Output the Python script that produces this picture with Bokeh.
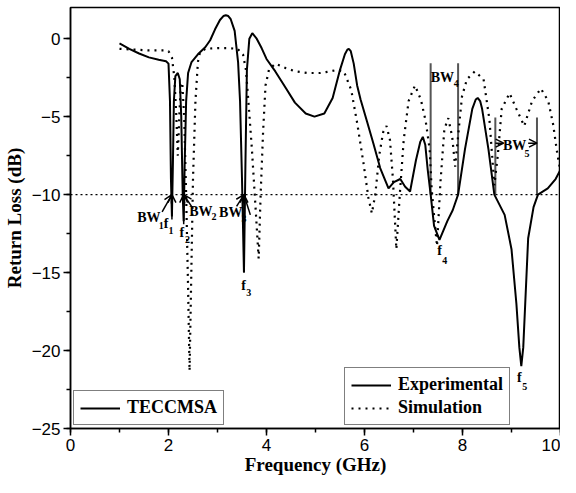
from bokeh.plotting import figure
from bokeh.models import (Legend, LegendItem, Arrow, OpenHead, Span,
                          SingleIntervalTicker, Range1d, ColumnDataSource)
from bokeh.core.properties import value
from bokeh.embed import file_html
from bokeh.resources import INLINE

# ---------------- data ----------------
exp_freq = [1.0, 1.2, 1.4, 1.6, 1.8, 1.95, 2.0, 2.03, 2.05, 2.07, 2.09, 2.11, 2.14,
            2.19, 2.23, 2.26, 2.29, 2.31, 2.33, 2.36, 2.40, 2.47, 2.6, 2.75, 2.85,
            2.95, 3.05, 3.12, 3.17, 3.22, 3.27, 3.35, 3.42, 3.46, 3.50, 3.54, 3.57,
            3.60, 3.65, 3.71, 3.8, 3.9, 4.0, 4.18, 4.4, 4.58, 4.8, 4.98, 5.18, 5.35,
            5.5, 5.6, 5.65, 5.68, 5.72, 5.78, 5.85, 5.92, 6.05, 6.18, 6.32, 6.49,
            6.6, 6.73, 6.83, 6.93, 7.05, 7.14, 7.19, 7.24, 7.29, 7.35, 7.42, 7.53,
            7.69, 7.8, 7.91, 8.05, 8.2, 8.27, 8.31, 8.36, 8.4, 8.53, 8.65, 8.86,
            9.0, 9.1, 9.16, 9.2, 9.24, 9.28, 9.34, 9.45, 9.54, 9.74, 9.9, 10.0]
exp_rl = [-0.3, -0.65, -0.95, -1.2, -1.35, -1.45, -1.6, -4.0, -9.0, -11.4, -8.0, -4.0, -2.4,
          -2.2, -2.6, -5.0, -10.0, -11.7, -8.0, -4.0, -2.2, -1.5, -1.0, -0.55, -0.1,
          0.6, 1.2, 1.45, 1.5, 1.45, 1.25, 0.5, -1.5, -4.0, -9.0, -15.0, -8.0,
          -2.0, 0.0, 0.35, 0.0, -0.6, -1.3, -2.1, -3.2, -4.1, -4.8, -5.0, -4.8, -3.8,
          -2.0, -1.0, -0.7, -0.65, -0.8, -1.6, -3.0, -3.9, -5.3, -6.7, -8.3, -9.6,
          -9.2, -9.0, -9.5, -9.8, -7.8, -6.6, -6.3, -6.8, -8.4, -10.0, -12.0, -12.9,
          -11.7, -11.0, -10.0, -7.1, -4.5, -3.9, -3.8, -4.0, -4.5, -7.1, -10.0, -11.3,
          -13.5, -17.0, -19.8, -21.0, -19.8, -17.0, -12.8, -10.8, -10.0, -9.6, -9.0, -8.4]

sim_freq = [1.0, 1.3, 1.6, 1.9, 2.0, 2.07, 2.12, 2.16, 2.19, 2.22, 2.25, 2.28, 2.32,
            2.36, 2.40, 2.43, 2.46, 2.50, 2.55, 2.6, 2.64, 2.75, 3.0, 3.2, 3.41,
            3.52, 3.58, 3.63, 3.7, 3.77, 3.84, 3.88, 3.93, 3.98, 4.05, 4.18, 4.4,
            4.6, 4.84, 5.1, 5.3, 5.44, 5.58, 5.73, 5.85, 5.98, 6.08, 6.15, 6.22,
            6.3, 6.38, 6.45, 6.52, 6.58, 6.65, 6.72, 6.8, 6.9, 7.03, 7.15, 7.25,
            7.33, 7.37, 7.43, 7.48, 7.55, 7.63, 7.71, 7.79, 7.85, 7.93, 7.99, 8.09,
            8.25, 8.43, 8.55, 8.65, 8.72, 8.8, 8.96, 9.1, 9.26, 9.42, 9.6, 9.75,
            9.85, 9.94, 10.0]
sim_rl = [-0.65, -0.7, -0.75, -0.75, -0.8, -1.2, -2.5, -5.0, -7.5, -5.0, -3.0, -2.8, -5.0,
          -10.0, -16.0, -21.3, -16.0, -9.0, -4.0, -1.5, -0.9, -0.65, -0.6, -0.6, -0.65,
          -1.0, -2.0, -4.0, -7.0, -10.5, -14.1, -10.0, -6.0, -3.0, -2.0, -1.6, -1.9,
          -2.1, -2.2, -2.2, -2.1, -2.0, -2.1, -3.3, -5.4, -8.0, -10.2, -11.2, -10.0,
          -7.5, -6.0, -5.6, -6.5, -9.0, -13.5, -10.0, -6.5, -4.0, -3.0, -3.9, -5.3,
          -7.1, -9.6, -11.7, -13.3, -9.2, -5.8, -5.1, -6.3, -8.2, -5.6, -3.7, -2.6,
          -2.1, -2.6, -5.2, -9.4, -7.5, -4.5, -3.5, -4.5, -5.6, -4.0, -3.2, -4.0,
          -5.5, -7.5, -8.5]

threshold = -10
f_res = [2.07, 2.31, 3.54, 7.53, 9.20]      # resonant frequencies f1..f5
f_min = [-11.6, -11.9, -15.0, -12.9, -21.0]
bw4_edges = [7.35, 7.91]
bw5_edges = [8.67, 9.52]
bw4_top = -1.57
bw5_top = -5.06

x_ticks_interval = 2
y_ticks_interval = 5

SERIF = "Liberation Serif"
SANS = "Liberation Sans"

# ---------------- figure ----------------
p = figure(width=560, height=477, output_backend="svg", toolbar_location=None,
           x_range=Range1d(0, 10), y_range=Range1d(-25, 2),
           min_border_left=70, min_border_right=0, min_border_top=7,
           min_border_bottom=46)
p.grid.visible = False
p.background_fill_color = "white"
p.border_fill_color = "white"
p.outline_line_color = "black"
p.outline_line_width = 1.5

for ax in (p.xaxis[0], p.yaxis[0]):
    ax.axis_line_width = 1.5
    ax.major_tick_line_width = 1.5
    ax.minor_tick_line_width = 1.5
    ax.major_tick_out = 7
    ax.major_tick_in = 0
    ax.minor_tick_out = 4
    ax.minor_tick_in = 0
    ax.major_label_text_font = SANS
    ax.major_label_text_font_size = "17px"
    ax.major_label_text_color = "black"
    ax.axis_label_text_font = SERIF
    ax.axis_label_text_font_style = "bold"
    ax.axis_label_text_font_size = "19px"
    ax.axis_label_text_color = "black"

p.xaxis.ticker = SingleIntervalTicker(interval=x_ticks_interval, num_minor_ticks=2)
p.yaxis.ticker = SingleIntervalTicker(interval=y_ticks_interval, num_minor_ticks=2)
p.xaxis.axis_label = "Frequency (GHz)"
p.yaxis.axis_label = "Return Loss (dB)"
p.xaxis.major_label_standoff = 3
p.yaxis.major_label_standoff = 3
p.xaxis.axis_label_standoff = 0
p.yaxis.axis_label_standoff = 4

# threshold line
p.add_layout(Span(location=threshold, dimension="width", line_color="black",
                  line_width=1.3, line_dash="2 3"))

# BW marker lines
p.segment(x0=bw4_edges, y0=[bw4_top] * 2, x1=bw4_edges, y1=[threshold] * 2,
          line_color="#555555", line_width=2)
p.segment(x0=bw5_edges, y0=[bw5_top] * 2, x1=bw5_edges, y1=[threshold] * 2,
          line_color="#555555", line_width=2)

sim = p.line(sim_freq, sim_rl, line_color="black", line_width=2.2, line_dash="2 5")
exp = p.line(exp_freq, exp_rl, line_color="black", line_width=2)

# ---------------- arrows ----------------
def arrow(xs, ys, xe, ye, head=True):
    kw = dict(x_start=xs, y_start=ys, x_end=xe, y_end=ye,
              line_color="black", line_width=1.5)
    kw["end"] = OpenHead(size=8, line_width=1.5) if head else None
    p.add_layout(Arrow(**kw))

f1, f2, f3, f4, f5 = f_res
arrow(f1, f_min[0], f1, threshold)
arrow(f1 - 0.20, threshold - 1.1, f1, threshold)
arrow(f2, f_min[1], f2, threshold)
arrow(f2 + 0.16, threshold - 0.75, f2, threshold)
arrow(f3, f_min[2], f3, threshold)
arrow(f3 - 0.15, threshold - 0.75, f3, threshold)
arrow(f3 + 0.13, threshold - 1.3, f3, threshold, head=False)
bw5_y = -6.7
arrow(bw5_edges[0], bw5_y, bw5_edges[0] + 0.17, bw5_y)
arrow(bw5_edges[1] - 0.18, bw5_y, bw5_edges[1], bw5_y)

# ---------------- labels ----------------
main_lbl = ColumnDataSource(dict(
    x=[f1 - 0.47, f1 - 0.12, f2 - 0.04, f2 + 0.35, f3 - 0.27, f3 - 0.01,
       f4, f5 - 0.04, sum(bw4_edges) / 2 - 0.04, sum(bw5_edges) / 2 - 0.03],
    y=[-11.47, -11.85, -12.4, -11.08, -11.15, -15.8, -13.6, -21.7, -2.46, -6.84],
    t=["BW", "f", "f", "BW", "BW", "f", "f", "f", "BW", "BW"]))
sub_lbl = ColumnDataSource(dict(
    x=[f1 - 0.22, f1 - 0.02, f2 + 0.08, f2 + 0.62, f3 + 0.0, f3 + 0.10,
       f4 + 0.11, f5 + 0.07, bw4_edges[1] - 0.04, sum(bw5_edges) / 2 + 0.22],
    y=[-11.95, -12.3, -12.85, -11.4, -11.5, -16.25, -14.2, -22.3, -2.9, -7.35],
    t=["1", "1", "2", "2", "3", "3", "4", "5", "4", "5"]))
p.text(x="x", y="y", text="t", source=main_lbl, text_font=value(SERIF),
       text_font_style="bold", text_font_size="14px", text_align="center",
       text_baseline="middle", text_color="black")
p.text(x="x", y="y", text="t", source=sub_lbl, text_font=value(SERIF),
       text_font_style="bold", text_font_size="10px", text_align="center",
       text_baseline="middle", text_color="black")

# ---------------- legends ----------------
def style_legend(lg):
    lg.border_line_color = "black"
    lg.border_line_width = 1.5
    lg.background_fill_color = "white"
    lg.background_fill_alpha = 1
    lg.label_text_font = SERIF
    lg.label_text_font_style = "bold"
    lg.label_text_font_size = "18px"
    lg.label_text_color = "black"
    lg.glyph_width = 40
    lg.label_standoff = 7
    lg.padding = 6
    lg.spacing = 2
    lg.margin = 0
    lg.label_height = 20
    lg.glyph_height = 20

leg1 = Legend(items=[LegendItem(label="TECCMSA", renderers=[exp])], location=(3, 3))
leg2 = Legend(items=[LegendItem(label="Experimental", renderers=[exp]),
                     LegendItem(label="Simulation", renderers=[sim])], location=(274, 3))
style_legend(leg1)
style_legend(leg2)
p.add_layout(leg1, "center")
p.add_layout(leg2, "center")

open("out.html", "w").write(file_html(p, INLINE))
